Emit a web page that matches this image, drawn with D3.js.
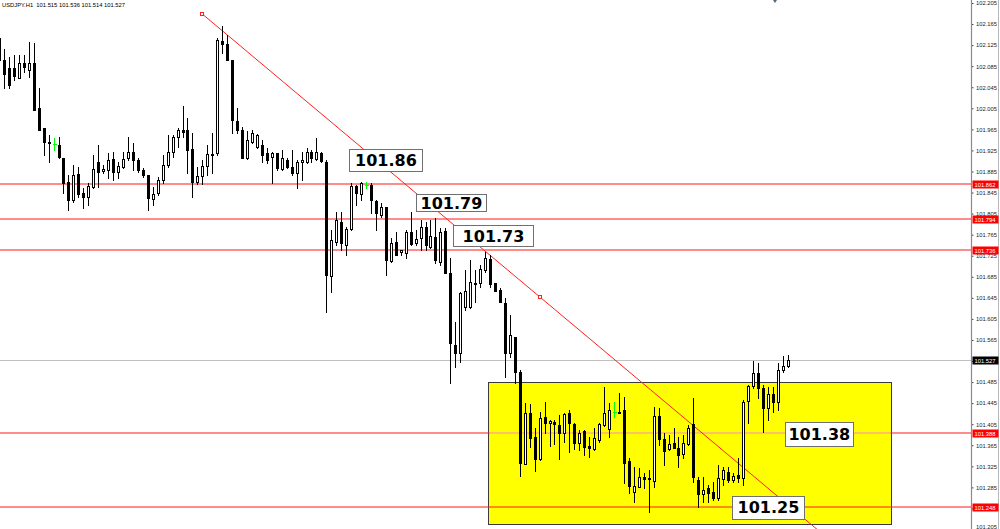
<!DOCTYPE html>
<html><head><meta charset="utf-8">
<script src="https://cdn.jsdelivr.net/npm/d3@7"></script>
<style>html,body{margin:0;padding:0;background:#fff;overflow:hidden}svg{display:block}</style>
</head><body>
<svg id="c" width="1000" height="529"></svg>
<script>
// ---------- DATA ----------
const symbolTitle = "USDJPY.H1";
const opens = [
102.139,102.097,102.082,102.082,102.063,102.091,102.078,102.091,102.006,101.968,
101.941,101.937,101.936,101.911,101.865,101.831,101.880,101.844,101.837,101.856,
101.903,101.886,101.888,101.909,101.884,101.894,101.911,101.922,101.907,101.888,
101.879,101.833,101.844,101.869,101.898,101.922,101.951,101.964,101.964,101.928,
101.865,101.877,101.896,101.918,101.920,102.133,102.127,102.097,101.981,101.964,
101.911,101.941,101.932,101.936,101.920,101.913,101.920,101.890,101.907,101.894,
101.882,101.903,101.903,101.922,101.909,101.920,101.903,101.687,101.751,101.789,
101.746,101.776,101.858,101.842,101.860,101.860,101.829,101.803,101.818,101.715,
101.751,101.732,101.730,101.770,101.749,101.759,101.780,101.742,101.761,101.713,
101.772,101.692,101.556,101.540,101.628,101.628,101.673,101.673,101.698,101.719,
101.673,101.660,101.635,101.540,101.571,101.504,101.329,101.426,101.381,101.339,
101.419,101.407,101.409,101.404,101.388,101.426,101.405,101.369,101.392,101.364,
101.358,101.375,101.404,101.396,101.428,101.428,101.432,101.335,101.276,101.286,
101.305,101.303,101.297,101.421,101.377,101.358,101.369,101.360,101.348,101.367,
101.405,101.299,101.272,101.284,101.276,101.265,101.301,101.314,101.299,101.309,
101.303,101.449,101.478,101.502,101.474,101.436,101.462,101.447,101.508,101.515];
const highs = [
102.141,102.118,102.103,102.107,102.107,102.107,102.131,102.129,102.044,101.968,
101.955,101.949,101.951,101.911,101.879,101.898,101.894,101.854,101.863,101.917,
101.936,101.898,101.920,101.922,101.903,101.922,101.951,101.939,101.911,101.892,
101.879,101.856,101.875,101.917,101.955,101.955,101.968,102.010,101.987,101.958,
101.894,101.907,101.936,101.958,102.139,102.162,102.145,102.097,102.006,101.970,
101.962,101.964,101.956,101.945,101.930,101.922,101.920,101.926,101.911,101.926,
101.907,101.922,101.930,101.926,101.949,101.922,101.907,101.774,101.808,101.808,
101.780,101.863,101.860,101.865,101.865,101.863,101.831,101.825,101.818,101.759,
101.770,101.736,101.774,101.808,101.774,101.793,101.789,101.793,101.797,101.778,
101.778,101.721,101.599,101.656,101.698,101.717,101.698,101.708,101.732,101.727,
101.673,101.664,101.645,101.613,101.571,101.508,101.445,101.443,101.398,101.428,
101.447,101.413,101.413,101.423,101.426,101.432,101.407,101.394,101.394,101.381,
101.398,101.407,101.476,101.445,101.447,101.464,101.457,101.341,101.324,101.322,
101.312,101.318,101.438,101.436,101.388,101.385,101.398,101.381,101.385,101.404,
101.455,101.305,101.305,101.290,101.295,101.328,101.324,101.324,101.312,101.341,
101.451,101.480,101.525,101.521,101.480,101.476,101.476,101.521,101.535,101.536];
const lows = [
102.095,102.044,102.044,102.059,102.063,102.074,102.065,102.002,101.964,101.917,
101.903,101.926,101.911,101.844,101.812,101.827,101.837,101.816,101.822,101.854,
101.856,101.882,101.873,101.869,101.873,101.892,101.907,101.888,101.884,101.875,
101.812,101.822,101.841,101.863,101.894,101.913,101.932,101.951,101.882,101.837,
101.861,101.861,101.879,101.882,101.917,102.110,102.097,101.958,101.958,101.911,
101.909,101.939,101.930,101.903,101.901,101.863,101.888,101.888,101.892,101.879,
101.854,101.869,101.901,101.903,101.907,101.903,101.618,101.656,101.746,101.736,
101.727,101.774,101.822,101.831,101.854,101.806,101.774,101.799,101.689,101.713,
101.727,101.727,101.721,101.746,101.746,101.736,101.736,101.740,101.711,101.708,
101.692,101.483,101.514,101.523,101.622,101.626,101.637,101.666,101.694,101.666,
101.658,101.637,101.495,101.533,101.483,101.307,101.329,101.362,101.316,101.337,
101.388,101.364,101.367,101.339,101.371,101.352,101.358,101.356,101.347,101.343,
101.356,101.371,101.402,101.381,101.419,101.426,101.293,101.274,101.257,101.286,
101.284,101.238,101.286,101.366,101.328,101.356,101.360,101.324,101.341,101.366,
101.295,101.248,101.257,101.257,101.261,101.261,101.290,101.295,101.295,101.295,
101.290,101.407,101.474,101.455,101.390,101.413,101.428,101.432,101.504,101.514];
const closes = [
102.097,102.070,102.050,102.067,102.091,102.084,102.091,102.002,101.964,101.941,
101.939,101.937,101.913,101.863,101.831,101.879,101.842,101.837,101.858,101.890,
101.884,101.890,101.907,101.884,101.896,101.909,101.922,101.907,101.888,101.879,
101.835,101.842,101.869,101.898,101.922,101.951,101.964,101.960,101.926,101.865,
101.877,101.896,101.918,101.917,102.135,102.127,102.097,101.983,101.964,101.911,
101.945,101.958,101.955,101.917,101.907,101.920,101.892,101.911,101.894,101.882,
101.903,101.907,101.922,101.911,101.922,101.905,101.689,101.755,101.793,101.749,
101.776,101.858,101.844,101.863,101.860,101.831,101.806,101.818,101.717,101.749,
101.727,101.736,101.770,101.747,101.757,101.780,101.746,101.763,101.717,101.770,
101.692,101.559,101.540,101.654,101.658,101.675,101.671,101.700,101.721,101.671,
101.658,101.637,101.540,101.575,101.504,101.331,101.426,101.379,101.339,101.417,
101.407,101.411,101.405,101.388,101.424,101.407,101.369,101.388,101.362,101.360,
101.379,101.405,101.426,101.432,101.428,101.426,101.331,101.288,101.288,101.305,
101.301,101.301,101.421,101.377,101.354,101.367,101.360,101.347,101.369,101.398,
101.305,101.272,101.280,101.274,101.265,101.303,101.318,101.299,101.307,101.303,
101.447,101.478,101.502,101.474,101.436,101.462,101.447,101.508,101.516,101.527];

// horizontal levels drawn on chart (red) and current price (grey)
const levelPrices = [101.862, 101.794, 101.736, 101.388, 101.248];
const levelTags = ["101.862", "101.794", "101.736", "101.388", "101.248"];
const currentPrice = 101.527;
const currentTag = "101.527";

// axis tick labels
const tickLabels = ["102.205","102.165","102.125","102.085","102.045","102.005","101.965","101.925",
"101.885","101.845","101.805","101.765","101.725","101.685","101.645","101.605","101.565","101.525",
"101.485","101.445","101.405","101.365","101.325","101.285","101.245","101.205"];

// trendline anchors (bar index, price)
const trendBars = [41, 109];
const trendPrices = [102.184, 101.647];

// rectangle zone (bar index range, price range)
const zoneBars = [98.6, 179.8];
const zonePrices = [101.486, 101.216];

// text label annotations: text, anchor bar index, anchor price (centre)
const noteTexts = ["101.86", "101.79", "101.73", "101.38", "101.25"];
const noteBars = [77.92, 91.13, 99.6, 165.3, 155.04];
const notePrices = [101.907, 101.826, 101.763, 101.386, 101.247];

// ---------- LAYOUT ----------
const W = 1000, H = 529, AX = 971;
const noteW = [73, 70, 80, 68, 72];
const noteH = [22, 17, 21, 24, 23];

const bars = opens.map((o, i) => ({i, o, h: highs[i], l: lows[i], c: closes[i]}));

const x = d3.scaleLinear().domain([0, 159]).range([-1, 787.6]);
const y = d3.scaleLinear().domain([102.205, 101.205]).range([3, 529.5]);

const svg = d3.select("#c");
svg.append("rect").attr("width", W).attr("height", H).attr("fill", "#fff");

const defs = svg.append("defs");
defs.append("clipPath").attr("id", "plot").append("rect")
  .attr("x", 0).attr("y", 0).attr("width", AX).attr("height", H);

const plot = svg.append("g").attr("clip-path", "url(#plot)");
const px = v => Math.round(v) + 0.5;

// zone box
const zx0 = px(x(zoneBars[0])), zx1 = px(x(zoneBars[1]));
const zy0 = px(y(zonePrices[0])), zy1 = px(y(zonePrices[1]));
plot.append("rect")
  .attr("x", zx0).attr("y", zy0).attr("width", zx1 - zx0).attr("height", zy1 - zy0)
  .attr("fill", "#ffff00").attr("stroke", "#3a3a3a").attr("stroke-width", 1)
  .attr("shape-rendering", "crispEdges");

// current price line
plot.append("line")
  .attr("x1", 0).attr("x2", AX).attr("y1", px(y(currentPrice))).attr("y2", px(y(currentPrice)))
  .attr("stroke", "#c0c0c0").attr("stroke-width", 1).attr("shape-rendering", "crispEdges");

// level lines (soft, spread over two pixel rows like the reference)
plot.selectAll("line.level").data(levelPrices).join("line")
  .attr("class", "level")
  .attr("x1", 0).attr("x2", AX)
  .attr("y1", d => Math.round(y(d))).attr("y2", d => Math.round(y(d)))
  .attr("stroke", "#ff1a1a").attr("stroke-width", 1.15);

// pale segment inside box for the 101.388 level
plot.append("line")
  .attr("x1", zx0 + 1).attr("x2", zx1 - 1)
  .attr("y1", Math.round(y(levelPrices[3]))).attr("y2", Math.round(y(levelPrices[3])))
  .attr("stroke", "#fff6c0").attr("stroke-width", 1.15);

// trendline (ray)
const tA = [x(trendBars[0]), y(trendPrices[0])];
const tB = [x(trendBars[1]), y(trendPrices[1])];
const slope = (tB[1] - tA[1]) / (tB[0] - tA[0]);
const tEndX = 1000;
plot.append("line")
  .attr("x1", tA[0]).attr("y1", tA[1])
  .attr("x2", tEndX).attr("y2", tA[1] + slope * (tEndX - tA[0]))
  .attr("stroke", "#ff2020").attr("stroke-width", 1);
plot.selectAll("rect.tm").data([tA, tB]).join("rect")
  .attr("class", "tm")
  .attr("x", d => Math.round(d[0]) - 1.5).attr("y", d => Math.round(d[1]) - 1.5)
  .attr("width", 3).attr("height", 3)
  .attr("fill", "#fff").attr("stroke", "#ff2020").attr("stroke-width", 1);

// candles
const cg = plot.append("g").attr("shape-rendering", "crispEdges");
const cx = d => Math.round(x(d.i)) + 0.5;
const isDoji = d => d.o === d.c;
cg.selectAll("line.wick").data(bars).join("line")
  .attr("class", "wick")
  .attr("x1", cx).attr("x2", cx)
  .attr("y1", d => Math.round(y(d.h))).attr("y2", d => Math.round(y(d.l)) + 1)
  .attr("stroke", d => isDoji(d) ? "#00ff00" : "#000")
  .attr("stroke-width", 1);
cg.selectAll("rect.body").data(bars.filter(d => !isDoji(d))).join("rect")
  .attr("class", "body")
  .attr("x", d => cx(d) - 1)
  .attr("y", d => Math.round(Math.min(y(d.o), y(d.c))) + 0.5)
  .attr("width", 2)
  .attr("height", d => Math.max(1, Math.round(Math.abs(y(d.o) - y(d.c)))))
  .attr("fill", d => d.c > d.o ? "#fff" : "#000")
  .attr("stroke", "#000").attr("stroke-width", 1);
cg.selectAll("line.doji").data(bars.filter(isDoji)).join("line")
  .attr("class", "doji")
  .attr("x1", d => cx(d) - 2).attr("x2", d => cx(d) + 2)
  .attr("y1", d => px(y(d.o))).attr("y2", d => px(y(d.o)))
  .attr("stroke", "#00ff00").attr("stroke-width", 1);

// text annotations
const notes = noteTexts.map((t, k) => ({t, bx: x(noteBars[k]), by: y(notePrices[k]), w: noteW[k], h: noteH[k]}));
const ng = svg.append("g");
ng.selectAll("rect").data(notes).join("rect")
  .attr("x", d => Math.round(d.bx - d.w / 2) + 0.5)
  .attr("y", d => Math.round(d.by - d.h / 2) + 0.5)
  .attr("width", d => d.w).attr("height", d => d.h)
  .attr("fill", "#fff").attr("stroke", "#707070").attr("stroke-width", 1)
  .attr("shape-rendering", "crispEdges");
ng.selectAll("text").data(notes).join("text")
  .attr("x", d => d.bx + 0.5).attr("y", d => d.by + 6)
  .attr("text-anchor", "middle")
  .attr("font-family", "DejaVu Sans, sans-serif").attr("font-weight", "bold")
  .attr("font-size", 16).attr("fill", "#000")
  .text(d => d.t);

// right price axis
const ag = svg.append("g");
ag.append("rect").attr("x", AX).attr("y", 0).attr("width", W - AX).attr("height", H).attr("fill", "#fff");
const axis = d3.axisRight(y)
  .tickValues(tickLabels.map(Number))
  .tickFormat((d, k) => tickLabels[k])
  .tickSize(2).tickPadding(2);
const axG = ag.append("g").attr("transform", `translate(${AX + 0.5},0)`).call(axis);
axG.select(".domain").remove();
axG.selectAll(".tick line").attr("stroke", "#444");
axG.selectAll(".tick text")
  .attr("font-family", "Liberation Sans, Arial, sans-serif").attr("font-size", 5.8)
  .attr("fill", "#222").attr("x", 4.5);
// keep the bottom tick label inside the picture
axG.selectAll(".tick").filter(d => y(d) > H - 3).select("text").attr("dy", "-0.15em");
ag.append("line").attr("x1", AX + 0.5).attr("x2", AX + 0.5).attr("y1", 0).attr("y2", H)
  .attr("stroke", "#8a8a8a").attr("stroke-width", 1.2);
ag.append("line").attr("x1", W - 1.5).attr("x2", W - 1.5).attr("y1", 0).attr("y2", H)
  .attr("stroke", "#b8b8b8").attr("stroke-width", 1);

// price tags
const tags = levelPrices.map((p, k) => ({p, t: levelTags[k], bg: "#ff0000"}))
  .concat([{p: currentPrice, t: currentTag, bg: "#000"}]);
const tg = ag.selectAll("g.tag").data(tags).join("g").attr("class", "tag");
tg.append("rect")
  .attr("x", AX + 1.5).attr("y", d => Math.round(y(d.p)) - 3.5)
  .attr("width", 26).attr("height", 8).attr("fill", d => d.bg);
tg.append("text")
  .attr("x", AX + 3.5).attr("y", d => Math.round(y(d.p)) + 2.6)
  .attr("font-family", "Liberation Sans, Arial, sans-serif").attr("font-size", 5.8)
  .attr("fill", "#fff").text(d => d.t);

// header
svg.append("text").attr("x", 2).attr("y", 7.3)
  .attr("font-family", "Liberation Sans, Arial, sans-serif").attr("font-size", 5.8).attr("fill", "#000")
  .attr("xml:space", "preserve")
  .text(`${symbolTitle}  ${opens[159].toFixed(3)} ${highs[159].toFixed(3)} ${lows[159].toFixed(3)} ${closes[159].toFixed(3)}`);

// small object marker at the top edge
svg.append("path").attr("d", "M773,0 L777,0 L775,3 Z").attr("fill", "#56687a");
</script>
</body></html>
